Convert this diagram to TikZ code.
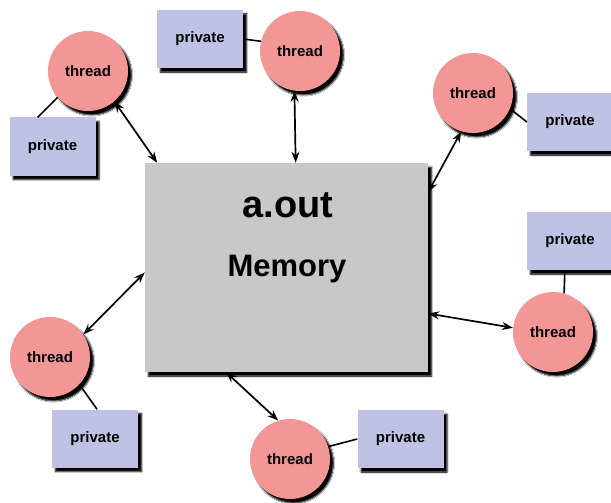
\documentclass[tikz,border=0pt]{standalone}
\usepackage{fontspec}
\setmainfont{Liberation Sans}
\usetikzlibrary{arrows.meta,shadows.blur}

\definecolor{threadpink}{RGB}{243,150,150}
\definecolor{privblue}{RGB}{190,194,228}
\definecolor{memgray}{RGB}{200,200,200}

\tikzset{
  sh/.style={blur shadow={shadow xshift=3.5pt,shadow yshift=-4pt,
      shadow blur radius=1.2pt,shadow opacity=100,shadow blur steps=5}},
  thr/.style={circle,fill=threadpink,minimum size=80pt,inner sep=0pt,sh,
      font=\bfseries\fontsize{15}{17}\selectfont},
  priv/.style={rectangle,fill=privblue,minimum width=86pt,minimum height=58pt,
      inner sep=0pt,sh,font=\bfseries\fontsize{15}{17}\selectfont},
  membox/.style={rectangle,fill=memgray,minimum width=283pt,minimum height=209pt,
      inner sep=0pt,sh},
  link/.style={line width=1.6pt},
  acc/.style={line width=1.7pt,
      {Stealth[length=11pt,width=8pt]}-{Stealth[length=11pt,width=8pt]}}
}

\begin{document}
\begin{tikzpicture}[x=1pt,y=-1pt]
  \fill[white] (0,0) rectangle (611,503);
  \useasboundingbox (0,0) rectangle (611,503);

  % shared memory
  \node[membox] (mem) at (286.5,267.5) {};
  \node[font=\bfseries\fontsize{38}{40}\selectfont] (aout) at (288,205) {a.out};
  \node[font=\bfseries\fontsize{31}{34}\selectfont] (memlbl) at (287,269) {Memory};

  % threads
  \node[thr] (t1) at (88,71)   {thread};
  \node[thr] (t2) at (300,51)  {thread};
  \node[thr] (t3) at (473,93)  {thread};
  \node[thr] (t4) at (553,332) {thread};
  \node[thr] (t5) at (50,357)  {thread};
  \node[thr] (t6) at (290,459) {thread};

  % private storage of each thread
  \node[priv] (p1) at (52.5,146.5) {private};
  \node[priv] (p2) at (200,39)     {private};
  \node[priv] (p3) at (570,122)    {private};
  \node[priv] (p4) at (570,241)    {private};
  \node[priv] (p5) at (95,438.5)   {private};
  \node[priv] (p6) at (400.5,439)  {private};

  % thread -- private links
  \draw[link] (t1.-139) -- (p1.117);
  \draw[link] (p2.east) -- (t2.166);
  \draw[link] (t3.-23) -- (p3.west);
  \draw[link] (p4.-100) -- (t4.74);
  \draw[link] (t5.-43) -- (p5.86);
  \draw[link] (t6.18) -- (p6.west);

  % thread <-> memory accesses
  \draw[acc] (t1.-49.5) -- (mem.141.6);
  \draw[acc] (t2.-98.7) -- (mem.85.9);
  \draw[acc] (t3.-107.5) -- (mem.28.7);
  \draw[acc] (mem.-18.9) -- (t4.174.3);
  \draw[acc] (mem.182.2) -- (t5.34.8);
  \draw[acc] (mem.240.8) -- (t6.107.5);
\end{tikzpicture}
\end{document}
